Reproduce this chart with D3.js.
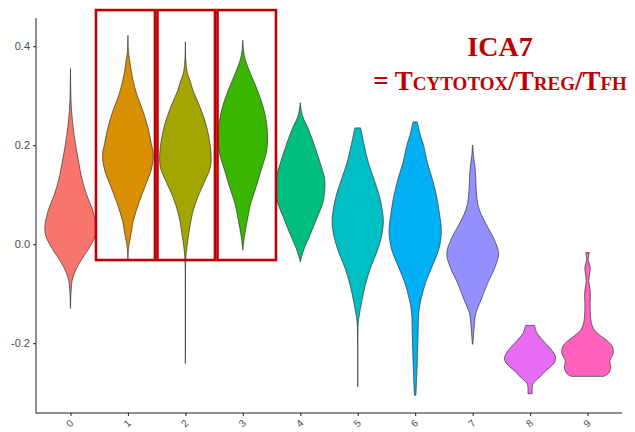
<!DOCTYPE html>
<html>
<head>
<meta charset="utf-8">
<script src="https://cdn.jsdelivr.net/npm/d3@7"></script>
<style>
  html, body { margin: 0; padding: 0; background: #fff; }
  svg { display: block; }
</style>
</head>
<body>
<div id="chart"></div>
<script>
// ---------------- data ----------------
const categories = ["0", "1", "2", "3", "4", "5", "6", "7", "8", "9"];
const fillColors = ["#F8766D", "#D89000", "#A3A500", "#39B600", "#00BF7D",
                    "#00BFC4", "#00B0F6", "#9590FF", "#E76BF3", "#FF62BC"];
const yTicks = [-0.2, 0.0, 0.2, 0.4];
const yTickLabels = ["-0.2", "0.0", "0.2", "0.4"];

// violin profiles: [value, relative density (1 = widest violin)]
const violin0 = [[0.355,0],[0.31,0.012],[0.27,0.04],[0.22,0.14],[0.17,0.3],[0.13,0.45],[0.10,0.62],[0.07,0.84],[0.04,0.97],[0.02,0.96],[0.0,0.8],[-0.03,0.44],[-0.05,0.22],[-0.07,0.08],[-0.09,0.03],[-0.13,0]];
const violin1 = [[0.422,0],[0.39,0.02],[0.37,0.07],[0.34,0.16],[0.304,0.33],[0.27,0.57],[0.237,0.76],[0.204,0.89],[0.18,0.97],[0.15,0.89],[0.116,0.65],[0.082,0.41],[0.048,0.21],[0.015,0.1],[-0.005,0.03],[-0.031,0]];
const violin2 = [[0.409,0],[0.37,0.02],[0.345,0.08],[0.33,0.18],[0.311,0.29],[0.277,0.56],[0.244,0.78],[0.21,0.92],[0.183,0.98],[0.156,0.96],[0.129,0.76],[0.096,0.48],[0.062,0.27],[0.028,0.15],[-0.005,0.06],[-0.032,0.015],[-0.1,0.003],[-0.241,0]];
const violin3 = [[0.412,0],[0.39,0.03],[0.372,0.1],[0.345,0.29],[0.311,0.56],[0.277,0.78],[0.244,0.91],[0.21,0.95],[0.183,0.89],[0.15,0.7],[0.116,0.51],[0.082,0.3],[0.048,0.17],[0.015,0.06],[-0.012,0]];
const violin4 = [[0.286,0],[0.26,0.08],[0.234,0.3],[0.2,0.54],[0.166,0.75],[0.133,0.93],[0.112,0.94],[0.085,0.87],[0.052,0.63],[0.018,0.37],[-0.009,0.15],[-0.025,0.05],[-0.036,0]];
const violin5 = [[0.235,0.11],[0.2,0.25],[0.166,0.4],[0.133,0.61],[0.099,0.82],[0.065,0.95],[0.045,0.98],[0.018,0.92],[-0.016,0.73],[-0.049,0.48],[-0.083,0.29],[-0.117,0.15],[-0.143,0.06],[-0.16,0.02],[-0.2,0.005],[-0.288,0]];
const violin6 = [[0.247,0.08],[0.22,0.2],[0.2,0.32],[0.166,0.46],[0.133,0.65],[0.099,0.81],[0.065,0.92],[0.025,1.0],[-0.009,0.91],[-0.042,0.67],[-0.076,0.41],[-0.11,0.23],[-0.137,0.14],[-0.184,0.11],[-0.238,0.08],[-0.278,0.05],[-0.305,0.03]];
const violin7 = [[0.2,0.01],[0.18,0.03],[0.16,0.08],[0.143,0.11],[0.109,0.14],[0.08,0.2],[0.06,0.33],[0.042,0.5],[0.008,0.84],[-0.019,0.99],[-0.046,0.86],[-0.079,0.57],[-0.113,0.32],[-0.14,0.12],[-0.167,0.06],[-0.202,0.01]];
const violin8 = [[-0.164,0.17],[-0.18,0.27],[-0.19,0.42],[-0.2,0.59],[-0.212,0.8],[-0.221,0.92],[-0.231,0.98],[-0.24,0.92],[-0.248,0.77],[-0.258,0.55],[-0.268,0.38],[-0.276,0.2],[-0.283,0.1],[-0.29,0.08],[-0.302,0.08]];
const violin9 = [[-0.017,0.07],[-0.024,0.04],[-0.032,0.03],[-0.046,0.1],[-0.06,0.08],[-0.073,0.05],[-0.09,0.09],[-0.1,0.11],[-0.127,0.1],[-0.154,0.13],[-0.165,0.18],[-0.174,0.27],[-0.185,0.5],[-0.194,0.73],[-0.207,0.95],[-0.221,0.98],[-0.234,0.86],[-0.241,0.86],[-0.248,0.89],[-0.261,0.8],[-0.267,0.62]];
const violins = [violin0, violin1, violin2, violin3, violin4, violin5, violin6, violin7, violin8, violin9];

// highlight boxes (category units / value units)
const highlightFrom = [0.444, 1.514, 2.559];
const highlightTo   = [1.471, 2.515, 3.577];
const highlightTop = 0.473, highlightBottom = -0.032;

// title
const titleLine1 = "ICA7";
const titleLine2 = [["= T", "big"], ["CYTOTOX", "small"], ["/T", "big"], ["REG", "small"], ["/T", "big"], ["FH", "small"]];

// ---------------- drawing ----------------
const W = 635, H = 432;
const svg = d3.select("#chart").append("svg").attr("width", W).attr("height", H);

const plotLeft = 36, plotRight = 622, plotTop = 18, plotBottom = 413;
const x = d3.scalePoint().domain(categories).range([plotLeft, plotRight]).padding(0.6);
const xi = d3.scaleLinear().domain([0, 9]).range([x("0"), x("9")]);
const y = d3.scaleLinear().domain([-0.341, 0.457]).range([plotBottom, plotTop]);
const w = d3.scaleLinear().domain([0, 1]).range([0, x.step() * 0.455]);

// violins
violins.forEach((prof, i) => {
  const cx = x(categories[i]);
  const area = d3.area()
    .curve(d3.curveCatmullRom.alpha(0.5))
    .y(d => y(d[0]))
    .x0(d => cx - w(d[1]))
    .x1(d => cx + w(d[1]));
  svg.append("path")
    .attr("d", area(prof))
    .attr("fill", fillColors[i])
    .attr("stroke", "#333333")
    .attr("stroke-width", 0.7)
    .attr("stroke-linejoin", "round");
});

// axes
const axisColor = "#222";
const textColor = "#4D4D4D";
const yAxis = svg.append("g").attr("transform", `translate(${plotLeft},0)`)
  .call(d3.axisLeft(y).tickValues(yTicks).tickFormat((d, i) => yTickLabels[i]).tickSize(3).tickPadding(3))
  .call(g => g.select(".domain").remove());
yAxis.selectAll("line").attr("stroke", axisColor);
yAxis.selectAll("text").attr("fill", textColor).style("font-family", "'Liberation Sans', Arial, sans-serif").style("font-size", "11px");

svg.append("line").attr("x1", plotLeft).attr("x2", plotLeft).attr("y1", plotTop).attr("y2", plotBottom + 0.5)
  .attr("stroke", axisColor).attr("stroke-width", 1);
svg.append("line").attr("x1", plotLeft).attr("x2", plotRight).attr("y1", plotBottom).attr("y2", plotBottom)
  .attr("stroke", axisColor).attr("stroke-width", 1);

const xAxis = svg.append("g").attr("transform", `translate(0,${plotBottom})`)
  .call(d3.axisBottom(x).tickSize(3).tickFormat(() => ""))
  .call(g => g.select(".domain").remove());
xAxis.selectAll("line").attr("stroke", axisColor);

svg.append("g").selectAll("text").data(categories).join("text")
  .attr("transform", d => `translate(${x(d)},${plotBottom + 11}) rotate(-45)`)
  .attr("text-anchor", "middle")
  .attr("dominant-baseline", "middle")
  .attr("fill", textColor)
  .style("font-family", "'Liberation Sans', Arial, sans-serif")
  .style("font-size", "10px")
  .text(d => d);

// highlight boxes
const red = "#C00000";
highlightFrom.forEach((f, i) => {
  svg.append("rect")
    .attr("x", xi(f)).attr("y", y(highlightTop))
    .attr("width", xi(highlightTo[i]) - xi(f))
    .attr("height", y(highlightBottom) - y(highlightTop))
    .attr("fill", "none").attr("stroke", red).attr("stroke-width", 2.6);
});

// title
const serif = "'Liberation Serif', 'Times New Roman', serif";
svg.append("text").attr("x", 500).attr("y", 56)
  .attr("text-anchor", "middle").attr("fill", red)
  .style("font-family", serif).style("font-weight", "bold").style("font-size", "28px")
  .text(titleLine1);
const t2 = svg.append("text").attr("x", 500).attr("y", 90)
  .attr("text-anchor", "middle").attr("fill", red)
  .style("font-family", serif).style("font-weight", "bold");
titleLine2.forEach(([s, k]) => {
  t2.append("tspan").style("font-size", k === "big" ? "27px" : "19px").text(s);
});
</script>
</body>
</html>
